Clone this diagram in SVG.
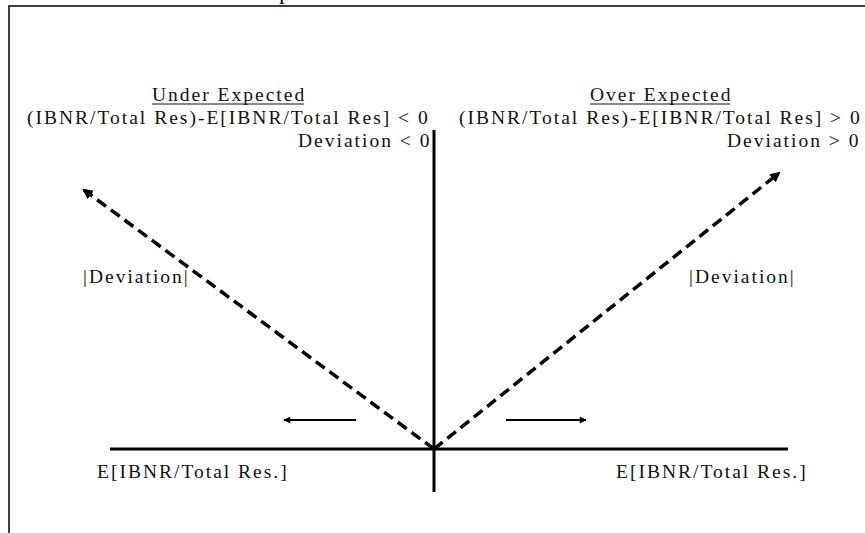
<svg xmlns="http://www.w3.org/2000/svg" width="865" height="533" viewBox="0 0 865 533">
  <style>
    .t { font-family: "Liberation Serif", "Times New Roman", serif; font-size: 19.5px; letter-spacing: 2px; fill: #111; }
    .axis { stroke: #000; stroke-width: 3; fill: none; }
    .dash { stroke: #000; stroke-width: 3.5; stroke-dasharray: 11 6; fill: none; }
    .arr { stroke: #000; stroke-width: 2; fill: none; }
    .border { stroke: #000; stroke-width: 1.5; fill: none; }
  </style>
  <defs>
    <marker id="headBig" viewBox="0 0 10 10" refX="8" refY="5" markerWidth="3" markerHeight="3" orient="auto" markerUnits="strokeWidth">
      <path d="M0,0 L10,5 L0,10 Z" fill="#000"/>
    </marker>
    <marker id="headSmall" viewBox="0 0 10 10" refX="9" refY="5" markerWidth="4.5" markerHeight="3.5" orient="auto" markerUnits="strokeWidth">
      <path d="M0,0 L10,5 L0,10 Z" fill="#000"/>
    </marker>
  </defs>
  <rect width="865" height="533" fill="#fff"/>
  <g id="frame">
    <polyline class="border" points="9,533 9,6 865,6"/>
    <text class="t" x="279" y="-1" style="font-size:24px">p</text>
  </g>
  <g id="connectors">
    <line class="axis" x1="110" y1="449" x2="788" y2="449"/>
    <line class="axis" x1="434" y1="130" x2="434" y2="492"/>
    <line class="dash" x1="434" y1="449" x2="84" y2="190" marker-end="url(#headBig)"/>
    <line class="dash" x1="434" y1="449" x2="779" y2="173" marker-end="url(#headBig)"/>
    <line class="arr" x1="356" y1="420" x2="284" y2="420" marker-end="url(#headSmall)"/>
    <line class="arr" x1="506" y1="420" x2="586" y2="420" marker-end="url(#headSmall)"/>
  </g>
  <g id="under-expected">
    <text class="t" x="152" y="101">Under Expected</text>
    <line x1="152" y1="104" x2="304" y2="104" stroke="#111" stroke-width="1"/>
    <text class="t" x="27" y="124">(IBNR/Total Res)-E[IBNR/Total Res] &lt; 0</text>
    <text class="t" x="298" y="147">Deviation &lt; 0</text>
  </g>
  <g id="over-expected">
    <text class="t" x="590" y="101">Over Expected</text>
    <line x1="590" y1="104" x2="730" y2="104" stroke="#111" stroke-width="1"/>
    <text class="t" x="459" y="124">(IBNR/Total Res)-E[IBNR/Total Res] &gt; 0</text>
    <text class="t" x="727" y="147">Deviation &gt; 0</text>
  </g>
  <g id="deviation-left">
    <text class="t" x="83" y="283">|Deviation|</text>
  </g>
  <g id="deviation-right">
    <text class="t" x="689" y="283">|Deviation|</text>
  </g>
  <g id="expected-left">
    <text class="t" x="97" y="478">E[IBNR/Total Res.]</text>
  </g>
  <g id="expected-right">
    <text class="t" x="616" y="478">E[IBNR/Total Res.]</text>
  </g>
</svg>
